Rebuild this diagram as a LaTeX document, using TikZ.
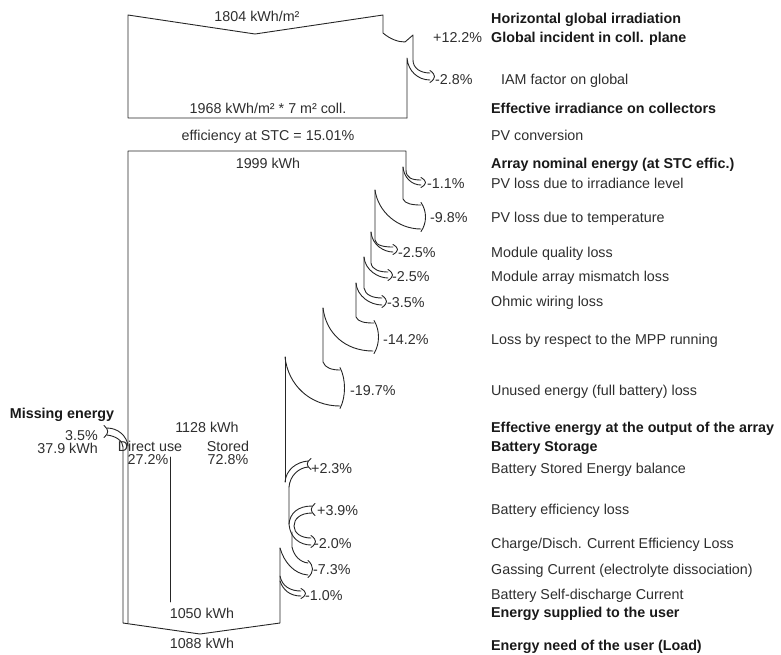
\documentclass[tikz,border=0pt]{standalone}
\usepackage{fontspec}
\setmainfont{Liberation Sans}
\newcommand\myhead[3]{\draw[ln] (#1,{#2-2.5}) .. controls ({#1+6},{#2+0.25*(#3-#2)}) and ({#1+6},{#3-0.25*(#3-#2)}) .. (#1,{#3+2.5});}
\newcommand\mytail[3]{\draw[ln] ({#1+3},{#2-2.5}) .. controls ({#1-2},{#2+0.25*(#3-#2)}) and ({#1-2},{#3-0.25*(#3-#2)}) .. ({#1+3},{#3+2.5});}
\newcommand\mytailL[3]{\draw[ln] ({#1-3},{#2-2.5}) .. controls ({#1+2},{#2+0.25*(#3-#2)}) and ({#1+2},{#3-0.25*(#3-#2)}) .. ({#1-3},{#3+2.5});}
\begin{document}
\begin{tikzpicture}[x=1pt,y=-1pt,
  ln/.style={line width=0.9pt, draw=black!85, line join=round, line cap=round},
  lbl/.style={inner sep=0pt, text height=10.3pt, text depth=0pt, font=\fontsize{14.3}{16}\selectfont, text=black!82},
  blbl/.style={lbl, font=\fontsize{14.3}{16}\selectfont\bfseries, text=black!90},
  rl/.style={lbl, anchor=west},
  rb/.style={blbl, anchor=west}]
\useasboundingbox (0,0) rectangle (781,654);

% ---------- top section (irradiation) ----------
\draw[ln] (407,118) -- (128,118) -- (128,15) -- (255,34) -- (383,15) -- (383,33)
  .. controls (390,39) and (398,42) .. (405,42) -- (413,35) -- (413,60)
  .. controls (413,68) and (420,73) .. (430,73);
\draw[ln] (407,118) -- (407,58) .. controls (408,71) and (418,80) .. (430,80);
\myhead{430}{73}{80}

% ---------- array section ----------
\draw[ln] (128,623) -- (128,151) -- (406,151) -- (406,170) .. controls (406,178) and (412,180) .. (421,180);
\draw[ln] (403,167) .. controls (404,178) and (412,185) .. (421,185);
\myhead{421}{180}{185}
\draw[ln] (403,167) -- (403,199) .. controls (405,204) and (413,205) .. (421,205);
\draw[ln] (375,190) .. controls (378,212) and (398,229) .. (421,229);
\myhead{421}{205}{229}
\draw[ln] (375,190) -- (375,240) .. controls (376,246) and (385,247) .. (393,247);
\draw[ln] (371,232) .. controls (372,245) and (384,252) .. (393,252);
\myhead{393}{247}{252}
\draw[ln] (371,232) -- (371,263) .. controls (372,270) and (380,272) .. (388,272);
\draw[ln] (364,257) .. controls (365,270) and (378,278) .. (388,278);
\myhead{388}{272}{278}
\draw[ln] (364,257) -- (364,288) .. controls (365,295) and (373,298) .. (382,298);
\draw[ln] (356,283) .. controls (357,296) and (370,305) .. (382,305);
\myhead{382}{298}{305}
\draw[ln] (356,283) -- (356,317) .. controls (358,322) and (365,323) .. (374,323);
\draw[ln] (323,308) .. controls (326,333) and (345,351) .. (373,351);
\myhead{374}{323}{351}
\draw[ln] (323,308) -- (323,362) .. controls (325,368) and (332,370) .. (340,370);
\draw[ln] (285,357) .. controls (288,385) and (310,406) .. (340,406);
\myhead{340}{370}{406}
\draw[ln] (285,357) -- (285,482);

% ---------- battery section ----------
\draw[ln] (285,482) .. controls (286,470) and (296,462) .. (308,461);
\draw[ln] (289,487) .. controls (290,476) and (298,468) .. (308,467);
\mytail{308}{461}{467}
\draw[ln] (289,487) -- (289,524) .. controls (290,538) and (300,545) .. (311,545);
\draw[ln] (312,506) .. controls (298,506) and (290,513) .. (289,524);
\draw[ln] (312,513) .. controls (300,513) and (294,519) .. (294,526) .. controls (294,533) and (301,538) .. (311,538);
\mytail{312}{506}{513}
\myhead{311}{538}{545}
\draw[ln] (292,532) -- (292,547) .. controls (294,556) and (300,562) .. (308,563);
\draw[ln] (280,548) .. controls (284,562) and (294,574) .. (308,575);
\myhead{308}{563}{575}
\draw[ln] (280,576) .. controls (282,586) and (290,591) .. (301,591);
\draw[ln] (280,581) .. controls (283,590) and (290,596) .. (301,596);
\myhead{301}{591}{596}
\draw[ln] (280,548) -- (280,623) -- (200,634) -- (123,623) -- (123,447);
% missing energy
\draw[ln] (107,428) .. controls (118,428) and (127,436) .. (128,446);
\draw[ln] (107,435) .. controls (116,436) and (123,441) .. (123,447);
\mytailL{107}{428}{435}
% direct use / stored divider
\draw[ln] (170,457) -- (170,602);

% ---------- labels in the diagram ----------
\node[lbl] (e1804) at (257,16) {1804 kWh/m²};
\node[lbl] (e1968) at (268,108) {1968 kWh/m² * 7 m² coll.};
\node[lbl] (eff) at (268,135) {efficiency at STC = 15.01\%};
\node[lbl] (e1999) at (268,163) {1999 kWh};
\node[lbl] (e1128) at (207,427) {1128 kWh};
\node[lbl] (direct) at (150,446) {Direct use};
\node[lbl] (direct2) at (148,459) {27.2\%};
\node[lbl] (stored) at (228,446) {Stored};
\node[lbl] (stored2) at (228,459) {72.8\%};
\node[lbl] (e1050) at (202,613) {1050 kWh};
\node[lbl] (e1088) at (202,643) {1088 kWh};
\node[blbl] (miss) at (62,413) {Missing energy};
\node[lbl, anchor=east] (miss1) at (98,435) {3.5\%};
\node[lbl, anchor=east] (miss2) at (98,448) {37.9 kWh};

% ---------- percentages ----------
\node[rl] (p1) at (433,37) {+12.2\%};
\node[rl] (p2) at (435,79) {-2.8\%};
\node[rl] (p3) at (427,183) {-1.1\%};
\node[rl] (p4) at (430,217) {-9.8\%};
\node[rl] (p5) at (398,252) {-2.5\%};
\node[rl] (p6) at (392,276) {-2.5\%};
\node[rl] (p7) at (387,302) {-3.5\%};
\node[rl] (p8) at (383,339) {-14.2\%};
\node[rl] (p9) at (350,390) {-19.7\%};
\node[rl] (p10) at (311,468) {+2.3\%};
\node[rl] (p11) at (317,510) {+3.9\%};
\node[rl] (p12) at (314,543) {-2.0\%};
\node[rl] (p13) at (313,569) {-7.3\%};
\node[rl] (p14) at (305,595) {-1.0\%};

% ---------- right column ----------
\node[rb] (r1) at (491,18) {Horizontal global irradiation};
\node[rb] (r2) at (491,37) {Global incident in coll. plane};
\node[rl] (r3) at (501,79) {IAM factor on global};
\node[rb] (r4) at (491,108) {Effective irradiance on collectors};
\node[rl] (r5) at (491,135) {PV conversion};
\node[rb] (r6) at (491,163) {Array nominal energy (at STC effic.)};
\node[rl] (r7) at (491,183) {PV loss due to irradiance level};
\node[rl] (r8) at (491,217) {PV loss due to temperature};
\node[rl] (r9) at (491,252) {Module quality loss};
\node[rl] (r10) at (491,276) {Module array mismatch loss};
\node[rl] (r11) at (491,301) {Ohmic wiring loss};
\node[rl] (r12) at (491,339) {Loss by respect to the MPP running};
\node[rl] (r13) at (491,390) {Unused energy (full battery) loss};
\node[rb] (r14) at (491,427) {Effective energy at the output of the array};
\node[rb] (r15) at (491,446) {Battery Storage};
\node[rl] (r16) at (491,468) {Battery Stored Energy balance};
\node[rl] (r17) at (491,509) {Battery efficiency loss};
\node[rl] (r18) at (491,543) {Charge/Disch. Current Efficiency Loss};
\node[rl] (r19) at (491,569) {Gassing Current (electrolyte dissociation)};
\node[rl] (r20) at (491,594) {Battery Self-discharge Current};
\node[rb] (r21) at (491,612) {Energy supplied to the user};
\node[rb] (r22) at (491,645) {Energy need of the user (Load)};
\end{tikzpicture}
\end{document}
